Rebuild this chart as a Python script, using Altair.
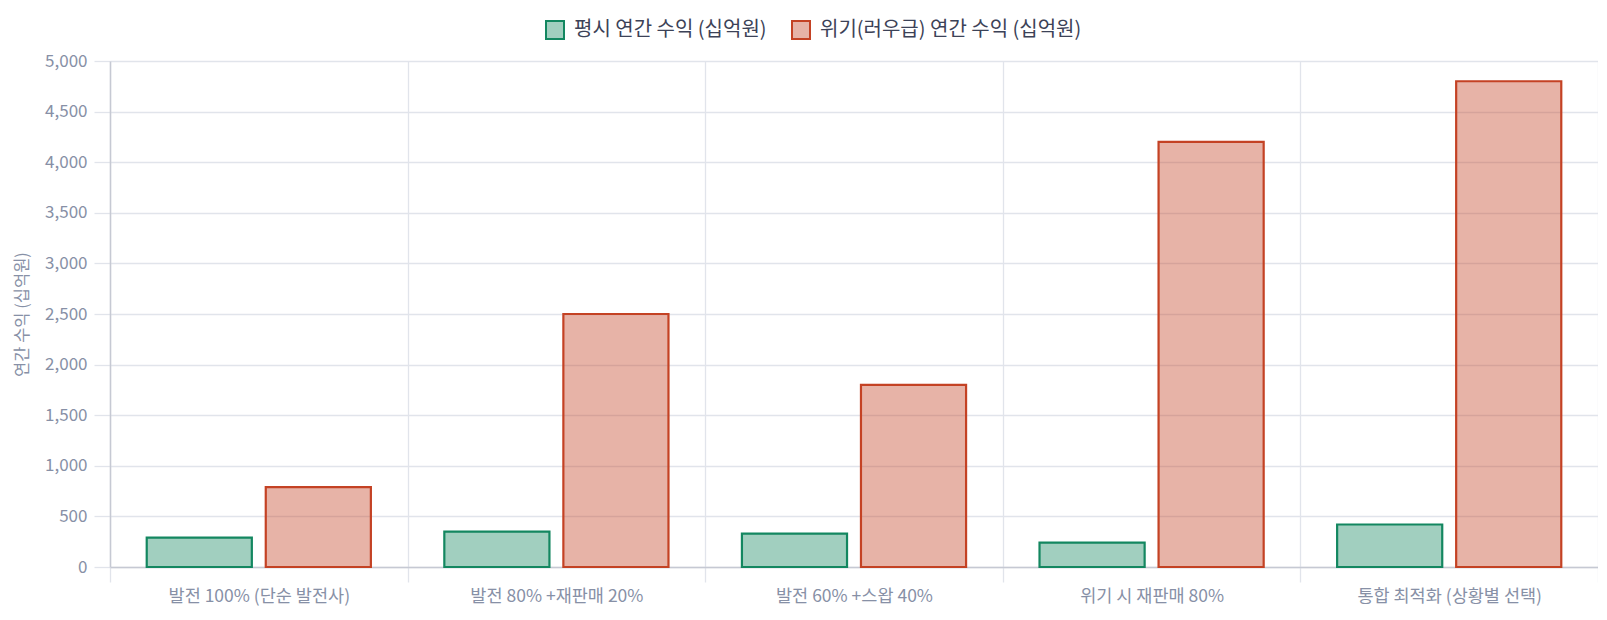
import altair as alt
import pandas as pd

categories = [
    "발전 100% (단순 발전사)",
    "발전 80% +재판매 20%",
    "발전 60% +스왑 40%",
    "위기 시 재판매 80%",
    "통합 최적화 (상황별 선택)",
]
series_names = ["평시 연간 수익 (십억원)", "위기(러우급) 연간 수익 (십억원)"]
normal_values = [290, 350, 330, 240, 420]
crisis_values = [790, 2500, 1800, 4200, 4800]

stroke_colors = ["#138760", "#c44224"]
fill_colors = ["rgba(19,135,96,0.4)", "rgba(196,66,36,0.4)"]
y_ticks = list(range(0, 5001, 500))

rows = []
for c, n, k in zip(categories, normal_values, crisis_values):
    rows.append({"category": c, "series": series_names[0], "value": n})
    rows.append({"category": c, "series": series_names[1], "value": k})
df = pd.DataFrame(rows)

FONT = "Noto Sans CJK KR"
LABEL = "#8790a6"
GRID = "#e1e4eb"
DOMAIN = "#c6c9d3"

legend = alt.Legend(
    orient="none", legendX=435, legendY=-41, direction="horizontal",
    title=None, symbolType="square", symbolSize=324, symbolStrokeWidth=2,
    labelFontSize=20, labelColor="#3c4257", labelFont=FONT, labelLimit=0,
    columnPadding=21, labelOffset=9, padding=0,
)

chart = alt.Chart(df).mark_bar(strokeWidth=2.2).encode(
    x=alt.X(
        "category:N", sort=categories,
        scale=alt.Scale(paddingInner=0, paddingOuter=0),
        axis=alt.Axis(
            title=None, labelAngle=0, tickBand="extent", grid=True,
            tickSize=15, labelPadding=5, labelFontSize=17.5, labelLimit=0,
        ),
    ),
    xOffset=alt.XOffset(
        "series:N", sort=series_names,
        scale=alt.Scale(domain=series_names, paddingInner=0.117, paddingOuter=0.3085),
    ),
    y=alt.Y(
        "value:Q",
        scale=alt.Scale(domain=[0, 5000], nice=False),
        axis=alt.Axis(
            values=y_ticks, format=",d", tickSize=16, labelPadding=7,
            labelFontSize=17, title="연간 수익 (십억원)", titleFontSize=16.5,
            titleFontWeight="normal", titleColor=LABEL, titleFont=FONT,
            titleX=-88, titleY=253, titleBaseline="middle", titleAngle=270,
        ),
    ),
    color=alt.Color(
        "series:N", sort=series_names,
        scale=alt.Scale(domain=series_names, range=fill_colors),
        legend=legend,
    ),
    stroke=alt.Stroke(
        "series:N", sort=series_names,
        scale=alt.Scale(domain=series_names, range=stroke_colors),
        legend=legend,
    ),
).properties(
    width=1488, height=506,
    autosize=alt.AutoSizeParams(type="none"),
    padding={"left": 102, "top": 53, "right": 0, "bottom": 43},
).configure_view(
    stroke=None
).configure_axis(
    gridColor=GRID, tickColor=GRID, domainColor=DOMAIN,
    labelColor=LABEL, labelFont=FONT, gridWidth=1.3, tickWidth=1.3, domainWidth=1.5,
)

chart.save("out.html", embed_options={"renderer": "svg", "actions": False})
